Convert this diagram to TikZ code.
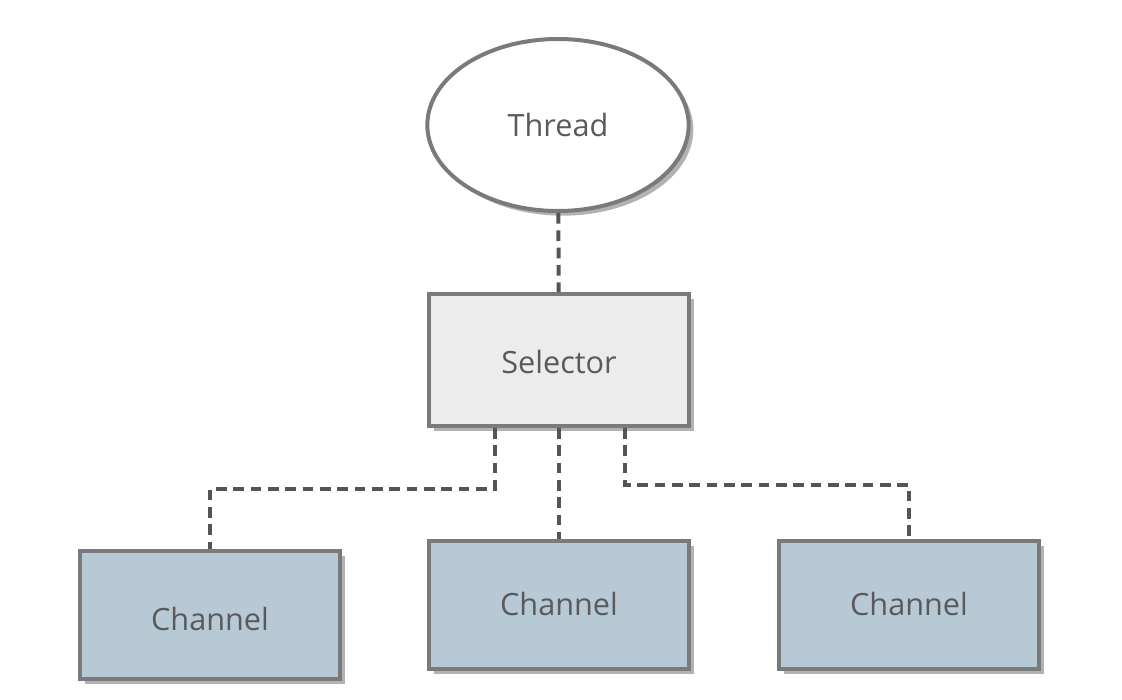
\documentclass[tikz,border=0pt]{standalone}
\usepackage{fontspec}
\setmainfont{Open Sans}
\usetikzlibrary{shapes.geometric,shadows,positioning}
\definecolor{boxline}{HTML}{7A7A7A}
\definecolor{linkgray}{HTML}{555555}
\definecolor{selfill}{HTML}{ECECEC}
\definecolor{chanfill}{HTML}{B8C9D6}
\definecolor{txtgray}{HTML}{5A5A5A}
\newcommand{\lowtext}[2]{\raisebox{-#1}[0.75em][0.25em]{#2}}
\tikzstyle{boxed}  = [draw=boxline, line width=3pt, text=txtgray,
                      font=\fontsize{23}{26}\selectfont,
                      drop shadow={shadow xshift=3.5pt, shadow yshift=-3.5pt, fill=black!30, opacity=1}]
\tikzstyle{thr}    = [boxed, ellipse, fill=white, minimum width=196pt, minimum height=129pt]
\tikzstyle{sel}    = [boxed, rectangle, fill=selfill, minimum width=195pt, minimum height=99pt]
\tikzstyle{chan}   = [boxed, rectangle, fill=chanfill, minimum width=195pt, minimum height=96pt]
\tikzstyle{link}   = [draw=linkgray, line width=3pt, dash pattern=on 8pt off 5pt]

\begin{document}
\begin{tikzpicture}[x=0.75pt, y=-0.75pt]
		\useasboundingbox (0,0) rectangle (1122,700);

		\node[thr]  (thread)   at (558,125) {\lowtext{3pt}{Thread}};
		\node[sel]  (selector) at (559,360) {\lowtext{4pt}{Selector}};
		\node[chan] (chanA)    at (210,615) {\lowtext{6pt}{Channel}};
		\node[chan] (chanB)    at (559,605) {\lowtext{2pt}{Channel}};
		\node[chan] (chanC)    at (909,605) {\lowtext{2pt}{Channel}};

		\draw[link] (thread) -- (selector);
		\draw[link] ([xshift=-48pt]selector.south) -- ++(0,61) -| (chanA);
		\draw[link] (selector) -- (chanB);
		\draw[link] ([xshift=49.5pt]selector.south) -- ++(0,57) -| (chanC);
	\end{tikzpicture}
\end{document}
